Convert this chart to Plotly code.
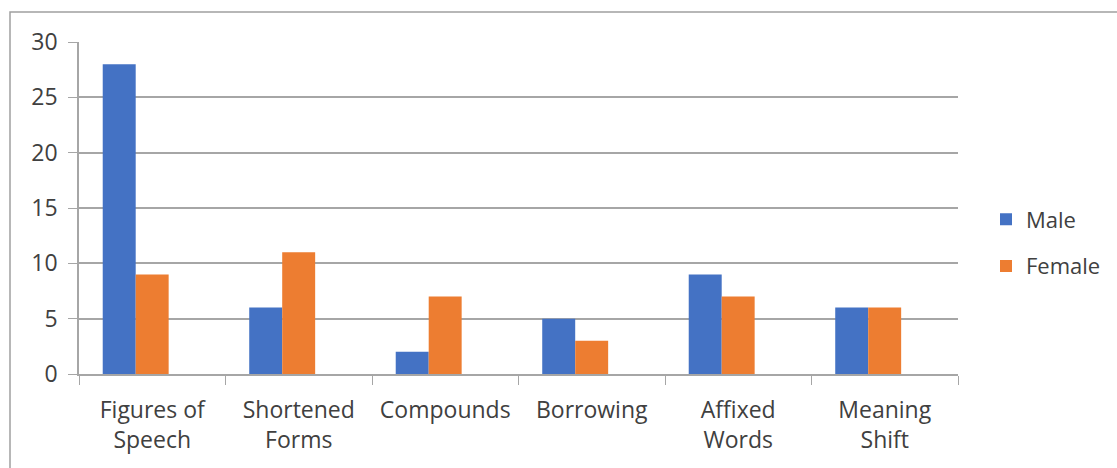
import plotly.graph_objects as go

categories = ["Figures of<br>Speech", "Shortened<br>Forms", "Compounds", "Borrowing", "Affixed<br>Words", "Meaning<br>Shift"]
male = [28, 6, 2, 5, 9, 6]
female = [9, 11, 7, 3, 7, 6]
y_ticks = [0, 5, 10, 15, 20, 25, 30]

BLUE = "#4472C4"
ORANGE = "#ED7D31"
GRID = "#A6A6A6"
TEXT = "#404040"
FONT = "Open Sans, Liberation Sans, sans-serif"
FS = 23

# bar width / offset in category units (group laid out for three slots)
BAR_W = 0.225
fig = go.Figure()
fig.add_trace(go.Bar(x=categories, y=male, name="Male", marker_color=BLUE,
                     marker_line_width=0, width=BAR_W, offset=-0.338, legendgroup="m"))
fig.add_trace(go.Bar(x=categories, y=female, name="Female", marker_color=ORANGE,
                     marker_line_width=0, width=BAR_W, offset=-0.113, legendgroup="f"))

W, H = 1117, 468
L, R, T, B = 79, 159, 42, 94
pw, ph = W - L - R, H - T - B

fig.update_layout(
    width=W, height=H,
    margin=dict(l=L, r=R, t=T, b=B, pad=0, autoexpand=False),
    paper_bgcolor="white", plot_bgcolor="white",
    barmode="overlay",
    font=dict(family=FONT, size=FS, color=TEXT),
    legend=dict(xref="container", yref="container", x=986 / W, y=1 - 243 / H,
                xanchor="left", yanchor="middle",
                font=dict(size=22, color=TEXT), tracegroupgap=15,
                itemwidth=30, bgcolor="rgba(0,0,0,0)"),
    xaxis=dict(showline=True, linecolor=GRID, linewidth=1.5,
               ticks="outside", tickson="boundaries", ticklen=9, tickcolor=GRID,
               tickfont=dict(size=FS, color=TEXT), showgrid=False, ticklabelstandoff=15),
    yaxis=dict(range=[0, 30], tickvals=y_ticks, showline=True, linecolor=GRID, linewidth=1.5,
               ticks="outside", ticklen=9, tickcolor=GRID, gridcolor=GRID, gridwidth=1.5,
               zeroline=False, tickfont=dict(size=FS, color=TEXT), ticklabelstandoff=6),
)

# outer chart frame
fig.add_shape(type="rect", xref="paper", yref="paper",
              x0=(10 - L) / pw, x1=2, y0=-1, y1=(H - B - 12) / ph,
              line=dict(color="#A0A0A0", width=1.5), layer="below")

fig.write_html("out.html")
